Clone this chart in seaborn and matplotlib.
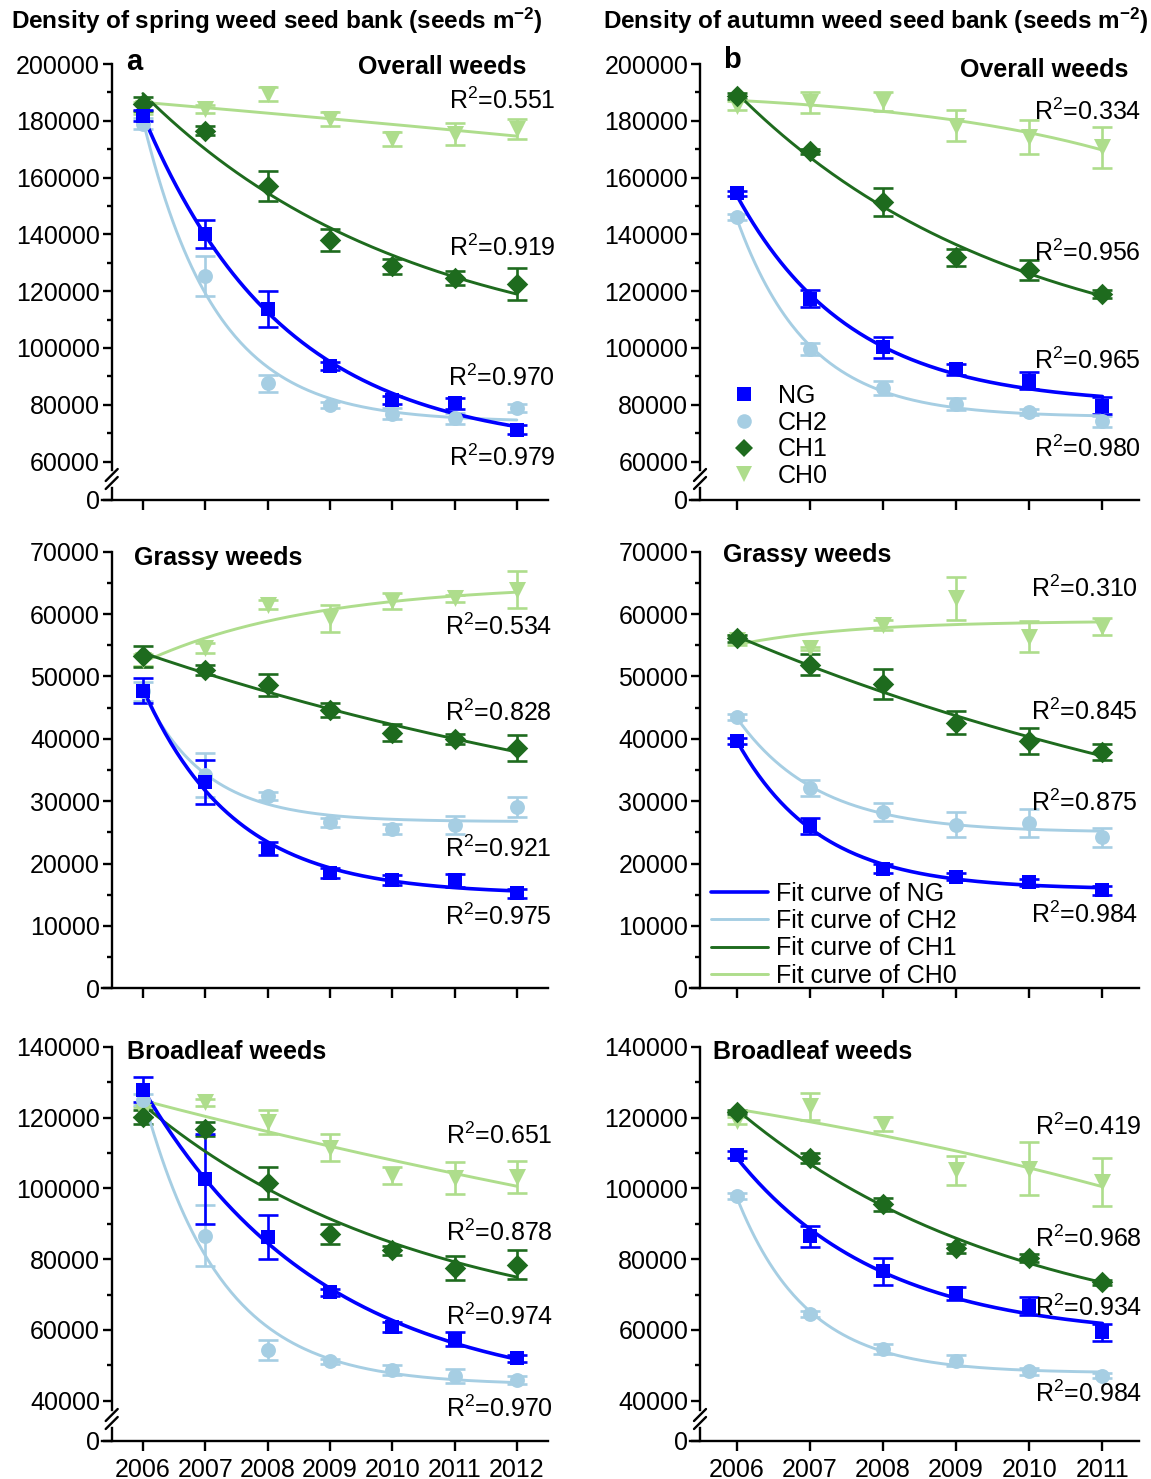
import numpy as np
import pandas as pd
import matplotlib
matplotlib.use('Agg')
import matplotlib.pyplot as plt
import seaborn as sns
from matplotlib.lines import Line2D
from matplotlib.ticker import MultipleLocator, FixedLocator, StrMethodFormatter, NullLocator

sns.set_style('ticks')
plt.rcParams['font.family'] = ['Liberation Sans', 'DejaVu Sans']
plt.rcParams['mathtext.fontset'] = 'custom'
plt.rcParams['mathtext.rm'] = 'Liberation Sans'
plt.rcParams['mathtext.it'] = 'Liberation Sans:italic'
plt.rcParams['mathtext.bf'] = 'Liberation Sans:bold'
for k in ('text.color', 'axes.labelcolor', 'xtick.color', 'ytick.color', 'axes.edgecolor'):
    plt.rcParams[k] = 'black'

# ---- data ----
draw_order = ['CH0', 'CH1', 'CH2', 'NG']
legend_order = ['NG', 'CH2', 'CH1', 'CH0']
colors = {'NG': '#0000FF', 'CH2': '#A6CEE3', 'CH1': '#1E6B1E', 'CH0': '#AEDD8C'}
markers = {'NG': 's', 'CH2': 'o', 'CH1': 'D', 'CH0': 'v'}
marker_area = {'NG': 100, 'CH2': 115, 'CH1': 120, 'CH0': 150}

years_spring = [2006, 2007, 2008, 2009, 2010, 2011, 2012]
years_autumn = [2006, 2007, 2008, 2009, 2010, 2011]

# spring seed bank, overall weeds
spring_overall = {
    'NG':  [181800, 140100, 113700, 93700, 81700, 80500, 71200],
    'CH2': [179000, 125400, 87500, 80000, 76900, 75200, 78800],
    'CH1': [185900, 176500, 157100, 138000, 128700, 124500, 122500],
    'CH0': [184500, 184100, 189400, 180600, 173600, 175300, 177100],
}
spring_overall_se = {
    'NG':  [2000, 4800, 6300, 1500, 1500, 2000, 1500],
    'CH2': [2000, 7000, 3000, 1000, 2000, 2000, 1500],
    'CH1': [2500, 1500, 5200, 4000, 2500, 2500, 5500],
    'CH0': [2000, 1500, 2500, 2500, 2500, 4000, 3500],
}
spring_overall_r2 = {'CH0': '0.551', 'CH1': '0.919', 'NG': '0.970', 'CH2': '0.979'}

# autumn seed bank, overall weeds
autumn_overall = {
    'NG':  [154400, 117400, 100200, 92500, 88400, 79600],
    'CH2': [146000, 99600, 85800, 80200, 77500, 74100],
    'CH1': [188800, 169200, 151300, 131900, 127400, 119000],
    'CH0': [185300, 186500, 186800, 178300, 174200, 170600],
}
autumn_overall_se = {
    'NG':  [1000, 3000, 3800, 2000, 3000, 3000],
    'CH2': [1000, 2000, 2500, 2000, 1000, 2000],
    'CH1': [1000, 1000, 5000, 3000, 3500, 1500],
    'CH0': [1500, 3800, 3500, 5400, 6000, 7200],
}
autumn_overall_r2 = {'CH0': '0.334', 'CH1': '0.956', 'NG': '0.965', 'CH2': '0.980'}

# spring seed bank, grassy weeds
spring_grassy = {
    'NG':  [47700, 33100, 22400, 18500, 17300, 17300, 15200],
    'CH2': [47600, 34200, 30800, 26600, 25500, 26200, 29100],
    'CH1': [53200, 51000, 48600, 44600, 41000, 39900, 38500],
    'CH0': [52600, 54500, 61500, 59300, 62100, 62500, 63900],
}
spring_grassy_se = {
    'NG':  [2000, 3500, 1000, 800, 800, 1000, 700],
    'CH2': [1500, 3500, 600, 700, 800, 1500, 1600],
    'CH1': [1700, 800, 1800, 1100, 1400, 800, 2100],
    'CH0': [1000, 800, 700, 2200, 1300, 500, 3000],
}
spring_grassy_r2 = {'CH0': '0.534', 'CH1': '0.828', 'CH2': '0.921', 'NG': '0.975'}

# autumn seed bank, grassy weeds
autumn_grassy = {
    'NG':  [39700, 26000, 19200, 17900, 17000, 15700],
    'CH2': [43500, 32100, 28300, 26200, 26500, 24200],
    'CH1': [56100, 51900, 48800, 42600, 39600, 37900],
    'CH0': [55800, 54500, 58200, 62500, 56400, 58000],
}
autumn_grassy_se = {
    'NG':  [500, 1300, 700, 600, 600, 700],
    'CH2': [500, 1300, 1400, 2000, 2200, 1500],
    'CH1': [600, 1700, 2400, 1900, 2100, 1300],
    'CH0': [800, 300, 800, 3500, 2500, 1400],
}
autumn_grassy_r2 = {'CH0': '0.310', 'CH1': '0.845', 'CH2': '0.875', 'NG': '0.984'}

# spring seed bank, broadleaf weeds
spring_broad = {
    'NG':  [127900, 102700, 86400, 70700, 60800, 57500, 52000],
    'CH2': [125100, 86700, 54300, 51100, 48700, 47100, 45900],
    'CH1': [120200, 116900, 101600, 87200, 82500, 77500, 78500],
    'CH0': [121600, 124400, 118800, 111500, 103700, 103000, 103200],
}
spring_broad_se = {
    'NG':  [3500, 12700, 6200, 1000, 1500, 2000, 1000],
    'CH2': [1500, 8700, 2800, 800, 1300, 2000, 1200],
    'CH1': [2000, 2000, 4600, 2800, 1300, 3500, 4000],
    'CH0': [1500, 1000, 3400, 3800, 2500, 4600, 4600],
}
spring_broad_r2 = {'CH0': '0.651', 'CH1': '0.878', 'NG': '0.974', 'CH2': '0.970'}

# autumn seed bank, broadleaf weeds
autumn_broad = {
    'NG':  [109500, 86500, 76600, 70400, 66700, 59300],
    'CH2': [97800, 64500, 54600, 51300, 48300, 47100],
    'CH1': [121600, 108600, 95500, 83100, 80300, 73500],
    'CH0': [119200, 123200, 118300, 105100, 105600, 101800],
}
autumn_broad_se = {
    'NG':  [1000, 3000, 3800, 1800, 2500, 2500],
    'CH2': [800, 800, 1500, 1500, 1000, 600],
    'CH1': [600, 1500, 1800, 1300, 1200, 700],
    'CH0': [1000, 3800, 2000, 4000, 7500, 6800],
}
autumn_broad_r2 = {'CH0': '0.419', 'CH1': '0.968', 'NG': '0.934', 'CH2': '0.984'}

W, H = 1151, 1479
FS = 18


def px_axes(fig, left, right, top, bottom):
    return fig.add_axes([left / W, 1 - bottom / H, (right - left) / W, (bottom - top) / H])


def fit_curve(x, y):
    # y = a + b * exp(-k * (x - x0)), grid over k + linear least squares
    x = np.asarray(x, float)
    y = np.asarray(y, float)
    t = x - x[0]
    best = None
    ks = np.concatenate([np.linspace(-1.5, -0.01, 300), np.linspace(0.01, 3.0, 600)])
    for k in ks:
        A = np.column_stack([np.ones_like(t), np.exp(-k * t)])
        coef = np.linalg.lstsq(A, y, rcond=None)[0]
        sse = np.sum((A @ coef - y) ** 2)
        if best is None or sse < best[0]:
            best = (sse, k, coef)
    _, k, (a, b) = best
    xs = np.linspace(x[0], x[-1], 200)
    return xs, a + b * np.exp(-k * (xs - x[0]))


def style_y(ax, major, minor):
    ax.yaxis.set_major_locator(MultipleLocator(major))
    ax.yaxis.set_minor_locator(MultipleLocator(minor))
    ax.yaxis.set_major_formatter(StrMethodFormatter('{x:.0f}'))
    ax.tick_params(axis='y', which='major', length=6.5, width=1.7, labelsize=FS, pad=2, direction='out')
    ax.tick_params(axis='y', which='minor', length=3.5, width=1.7, direction='out')


def style_x(ax, years, labels):
    ax.set_xticks(years)
    ax.xaxis.set_minor_locator(NullLocator())
    ax.tick_params(axis='x', which='major', length=7, width=1.7, labelsize=FS, pad=5,
                   direction='out', labelbottom=labels)
    if labels:
        ax.set_xticklabels([str(y) for y in years])


def draw_break(fig, sx, yc):
    for dy in (-4, 4):
        y0, y1 = yc + dy + 6, yc + dy - 6
        fig.add_artist(Line2D([(sx - 6) / W, (sx + 6) / W], [1 - y0 / H, 1 - y1 / H],
                              color='black', lw=1.7))


panels = [
    dict(years=years_spring, mean=spring_overall, se=spring_overall_se, r2=spring_overall_r2,
         cols=(111.7, 548), rows=(64, 470), stub=(488, 500), ylim=(57007, 200000),
         major=20000, minor=10000, name='Overall weeds', name_xy=(2012.15, 199000), name_ha='right',
         letter='a', letter_xy=(2005.73, 200800), r2_x=2012.62,
         r2_y={'CH0': 187100, 'CH1': 135400, 'NG': 89600, 'CH2': 61400}, xlabels=False),
    dict(years=years_autumn, mean=autumn_overall, se=autumn_overall_se, r2=autumn_overall_r2,
         cols=(700, 1139), rows=(64, 470), stub=(488, 500), ylim=(57007, 200000),
         major=20000, minor=10000, name='Overall weeds', name_xy=(2011.35, 197900), name_ha='right',
         letter='b', letter_xy=(2005.81, 201400), r2_x=2011.53,
         r2_y={'CH0': 183000, 'CH1': 133600, 'NG': 95500, 'CH2': 64300}, xlabels=False),
    dict(years=years_spring, mean=spring_grassy, se=spring_grassy_se, r2=spring_grassy_r2,
         cols=(111.7, 548), rows=(551.7, 988.3), stub=None, ylim=(0, 70000),
         major=10000, minor=5000, name='Grassy weeds', name_xy=(2005.86, 68940), name_ha='left',
         letter=None, r2_x=2012.56,
         r2_y={'CH0': 58000, 'CH1': 44100, 'CH2': 22400, 'NG': 11500}, xlabels=False),
    dict(years=years_autumn, mean=autumn_grassy, se=autumn_grassy_se, r2=autumn_grassy_r2,
         cols=(700, 1139), rows=(551.7, 988.3), stub=None, ylim=(0, 70000),
         major=10000, minor=5000, name='Grassy weeds', name_xy=(2005.81, 69470), name_ha='left',
         letter=None, r2_x=2011.49,
         r2_y={'CH0': 64100, 'CH1': 44400, 'CH2': 29700, 'NG': 11800}, xlabels=False),
    dict(years=years_spring, mean=spring_broad, se=spring_broad_se, r2=spring_broad_r2,
         cols=(111.7, 548), rows=(1047, 1410), stub=(1428, 1441), ylim=(37371, 140000),
         major=20000, minor=10000, name='Broadleaf weeds', name_xy=(2005.74, 138670), name_ha='left',
         letter=None, r2_x=2012.58,
         r2_y={'CH0': 115000, 'CH1': 87600, 'NG': 63600, 'CH2': 37600}, xlabels=True),
    dict(years=years_autumn, mean=autumn_broad, se=autumn_broad_se, r2=autumn_broad_r2,
         cols=(700, 1139), rows=(1047, 1410), stub=(1428, 1441), ylim=(37371, 140000),
         major=20000, minor=10000, name='Broadleaf weeds', name_xy=(2005.68, 138670), name_ha='left',
         letter=None, r2_x=2011.54,
         r2_y={'CH0': 117400, 'CH1': 85800, 'NG': 66400, 'CH2': 41900}, xlabels=True),
]

fig = plt.figure(figsize=(W / 100, H / 100), dpi=100)

main_axes = []
for p in panels:
    left, right = p['cols']
    top, bottom = p['rows']
    years = p['years']
    xlim = (years[0] - 0.5, years[-1] + 0.5)
    ppy = (right - left) / (xlim[1] - xlim[0])

    ax = px_axes(fig, left, right, top, bottom)
    ax.set_xlim(*xlim)
    ax.set_ylim(*p['ylim'])
    sns.despine(ax=ax)
    for s in ('left', 'bottom'):
        ax.spines[s].set_linewidth(1.7)
    style_y(ax, p['major'], p['minor'])

    for t in draw_order:
        ax.errorbar(years, p['mean'][t], yerr=p['se'][t], fmt='none', ecolor=colors[t],
                    elinewidth=1.9, capsize=7.5, capthick=1.9, zorder=2)
        sns.scatterplot(x=years, y=p['mean'][t], ax=ax, marker=markers[t], s=marker_area[t],
                        color=colors[t], linewidth=0, zorder=3, legend=False, clip_on=False)
    for t in draw_order:
        xs, ys = fit_curve(years, p['mean'][t])
        sns.lineplot(x=xs, y=ys, ax=ax, color=colors[t], lw=2.6 if t == 'NG' else 2.1,
                     sort=False, estimator=None, zorder=2.5, legend=False)

    for t, lab in p['r2'].items():
        ax.text(p['r2_x'], p['r2_y'][t], 'R$^2$=' + lab, ha='right', va='center', fontsize=FS)
    ax.text(p['name_xy'][0], p['name_xy'][1], p['name'], ha=p['name_ha'], va='center',
            fontsize=FS, fontweight='bold')
    if p['letter']:
        ax.text(p['letter_xy'][0], p['letter_xy'][1], p['letter'], ha='left', va='center',
                fontsize=21, fontweight='bold')
    ax.set_xlabel('')
    ax.set_ylabel('')

    if p['stub'] is None:
        xax = ax
    else:
        ax.spines['bottom'].set_visible(False)
        ax.tick_params(axis='x', which='both', bottom=False, labelbottom=False)
        stop, sbot = p['stub']
        xax = px_axes(fig, left, right, stop, sbot)
        xax.set_xlim(*xlim)
        xax.set_ylim(0, 10)
        xax.patch.set_alpha(0)
        sns.despine(ax=xax)
        for s in ('left', 'bottom'):
            xax.spines[s].set_linewidth(1.7)
        xax.yaxis.set_major_locator(FixedLocator([0]))
        xax.yaxis.set_minor_locator(NullLocator())
        xax.tick_params(axis='y', which='major', length=6.5, width=1.7, labelsize=FS, pad=2)
        draw_break(fig, left, (bottom + stop) / 2)
    style_x(xax, years, p['xlabels'])
    xax.spines['bottom'].set_bounds(xlim[0] - 10 / ppy, xlim[1])
    main_axes.append(ax)

# legends
ax_b = main_axes[1]
mk_size = {'NG': 10, 'CH2': 10.5, 'CH1': 9, 'CH0': 11}
mk_handles = [Line2D([], [], ls='none', marker=markers[t], color=colors[t], ms=mk_size[t], mew=0)
              for t in legend_order]
ax_b.legend(mk_handles, legend_order, loc='upper left', bbox_to_anchor=(0.072, 0.212),
            frameon=False, fontsize=FS, handlelength=1.0, handletextpad=0.85,
            labelspacing=0.11, borderpad=0, borderaxespad=0)

ax_d = main_axes[3]
ln_handles = [Line2D([], [], color=colors[t], lw=2.6 if t == 'NG' else 2.1) for t in legend_order]
ax_d.legend(ln_handles, ['Fit curve of ' + t for t in legend_order], loc='upper left',
            bbox_to_anchor=(0.025, 0.244), frameon=False, fontsize=FS, handlelength=2.3,
            handletextpad=0.3, labelspacing=0.13, borderpad=0, borderaxespad=0)

# column titles
fig.text(11 / W, 1 - 21 / H, r'Density of spring weed seed bank (seeds m$^{\mathbf{-2}}$)',
         ha='left', va='center', fontsize=17.5, fontweight='bold')
fig.text(603 / W, 1 - 21 / H, r'Density of autumn weed seed bank (seeds m$^{\mathbf{-2}}$)',
         ha='left', va='center', fontsize=17.5, fontweight='bold')

fig.savefig('out.png', dpi=100)
